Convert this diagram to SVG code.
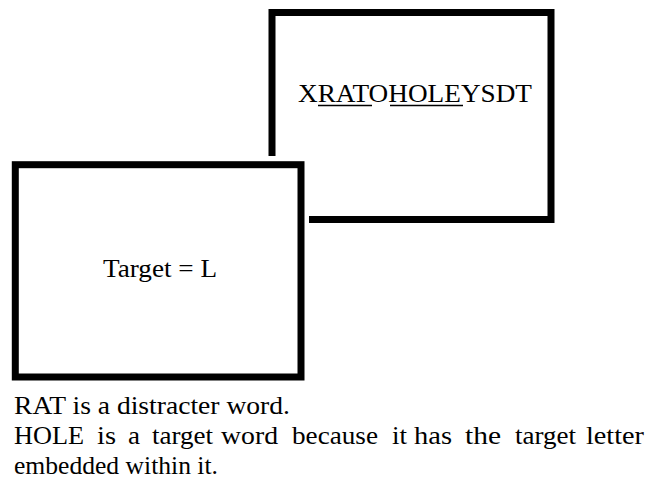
<svg xmlns="http://www.w3.org/2000/svg" width="647" height="481" viewBox="0 0 647 481">
  <style>
    .frame { fill: none; stroke: #000; stroke-width: 7; stroke-linejoin: miter; stroke-linecap: butt; }
    .txt { font-family: 'Liberation Serif', Tinos, 'Times New Roman', Times, 'Nimbus Roman', 'Noto Serif', FreeSerif, 'DejaVu Serif', serif; font-size: 26px; fill: #000; }
    .ul { stroke: #000; stroke-width: 1.4; }
  </style>
  <rect width="647" height="481" fill="#fff"/>

  <!-- Letter string card (partly hidden behind the target card) -->
  <g id="letter-string">
    <path class="frame" d="M272,156 V12.5 H551 V219.5 H309"/>
    <text class="txt" x="298" y="101.5" textLength="234" lengthAdjust="spacingAndGlyphs">XRATOHOLEYSDT</text>
    <line class="ul" x1="318" y1="105.5" x2="372" y2="105.5"/>
    <line class="ul" x1="390" y1="105.5" x2="463" y2="105.5"/>
  </g>

  <!-- Target card -->
  <g id="target">
    <rect class="frame" x="15.3" y="164.7" width="285.7" height="212.3"/>
    <text class="txt" x="103" y="277" textLength="114" lengthAdjust="spacingAndGlyphs">Target = L</text>
  </g>

  <!-- Caption, second line justified word by word -->
  <g id="caption" class="txt">
    <text x="14" y="414" textLength="276" lengthAdjust="spacingAndGlyphs">RAT is a distracter word.</text>
    <text y="444">
      <tspan x="14" textLength="70" lengthAdjust="spacingAndGlyphs">HOLE</tspan>
      <tspan x="97" textLength="19" lengthAdjust="spacingAndGlyphs">is</tspan>
      <tspan x="128" textLength="12" lengthAdjust="spacingAndGlyphs">a</tspan>
      <tspan x="152" textLength="61" lengthAdjust="spacingAndGlyphs">target</tspan>
      <tspan x="221" textLength="57" lengthAdjust="spacingAndGlyphs">word</tspan>
      <tspan x="292" textLength="86" lengthAdjust="spacingAndGlyphs">because</tspan>
      <tspan x="392" textLength="15" lengthAdjust="spacingAndGlyphs">it</tspan>
      <tspan x="414" textLength="38" lengthAdjust="spacingAndGlyphs">has</tspan>
      <tspan x="465" textLength="36" lengthAdjust="spacingAndGlyphs">the</tspan>
      <tspan x="515" textLength="61" lengthAdjust="spacingAndGlyphs">target</tspan>
      <tspan x="586" textLength="58" lengthAdjust="spacingAndGlyphs">letter</tspan>
    </text>
    <text x="14" y="474" textLength="204" lengthAdjust="spacingAndGlyphs">embedded within it.</text>
  </g>
</svg>
